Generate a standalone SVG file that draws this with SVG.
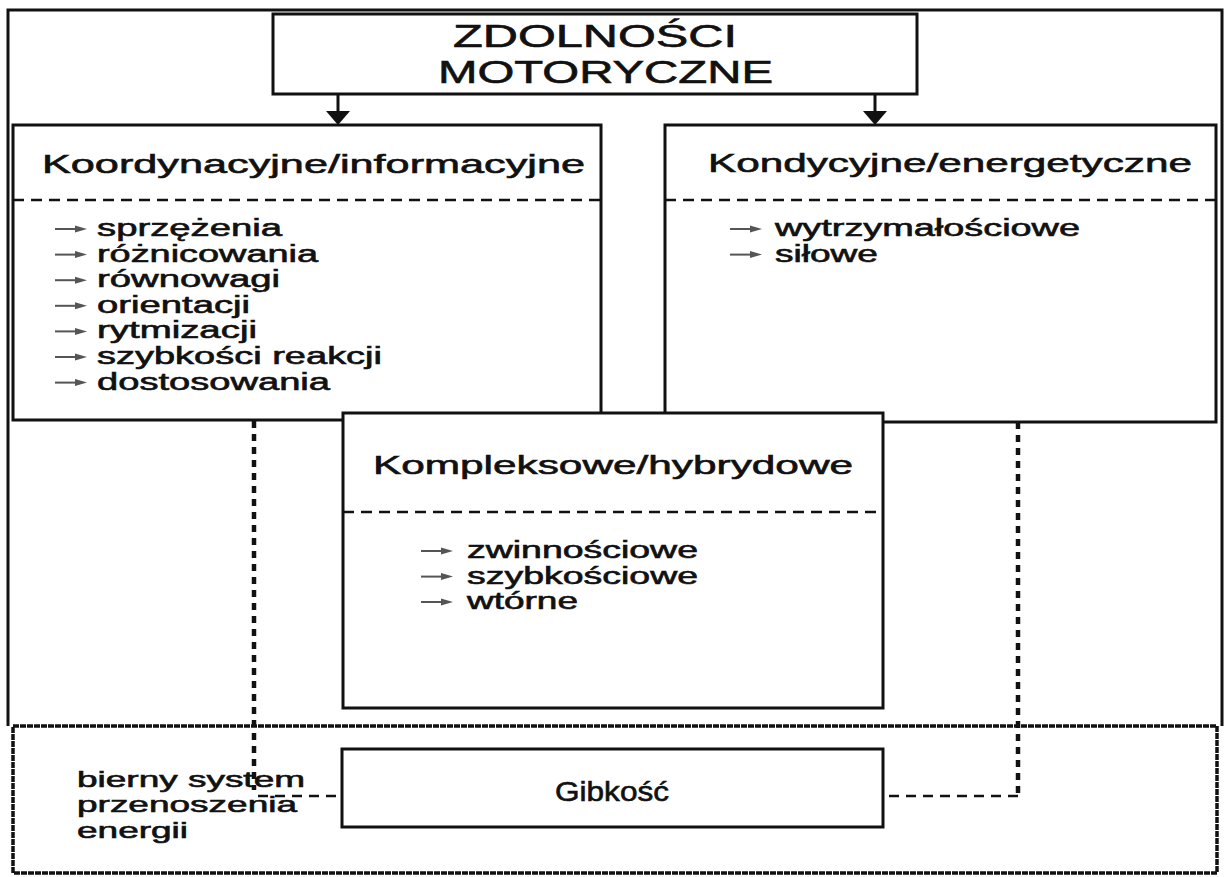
<svg xmlns="http://www.w3.org/2000/svg" width="1227" height="877" viewBox="0 0 1227 877">
  <style>
    .box { fill: #ffffff; stroke: #111111; stroke-width: 3; }
    .frame { fill: none; stroke: #111111; stroke-width: 3; }
    .band { fill: none; stroke: #111111; stroke-width: 3.5; stroke-dasharray: 6 1; }
    .sep { fill: none; stroke: #111111; stroke-width: 2.5; stroke-dasharray: 11 7; }
    .dots { fill: none; stroke: #111111; stroke-width: 4.5; stroke-dasharray: 7 6; }
    .dash { fill: none; stroke: #111111; stroke-width: 2.5; stroke-dasharray: 10 7; }
    .flow { fill: none; stroke: #111111; stroke-width: 3; }
    text { font-family: "Liberation Sans", Arial, sans-serif; fill: #111111; stroke: #111111; stroke-width: 0.6; }
    .title { font-size: 31px; }
    .head { font-size: 26px; }
    .item { font-size: 23px; }
    .note { font-size: 22px; }
  </style>
  <defs>
    <!-- small list bullet arrow -->
    <g id="bullet">
      <line x1="0" y1="0" x2="22" y2="0" stroke="#555555" stroke-width="2"/>
      <path d="M20,-3.5 L32,0 L20,3.5 Z" fill="#555555"/>
    </g>
  </defs>

  <!-- outer frame -->
  <path class="frame" d="M8,726 V10 H1222 V726"/>

  <!-- bottom band with flexibility -->
  <rect id="band" class="band" x="13" y="726" width="1204" height="147"/>

  <!-- connectors -->
  <g id="connectors">
    <path class="flow" d="M338,94 V112"/>
    <path d="M326,111 L350,111 L338,125 Z" fill="#111111"/>
    <path class="flow" d="M875,94 V112"/>
    <path d="M863,111 L887,111 L875,125 Z" fill="#111111"/>
    <path class="dots" d="M254,421 V790"/>
    <path class="dash" d="M258,796 H342"/>
    <path class="dots" d="M1018,422 V796"/>
    <path class="dash" d="M1018,796 H885"/>
  </g>

  <!-- title -->
  <g id="node-title">
    <rect class="box" x="273" y="14" width="644" height="80"/>
    <text class="title" x="453" y="47" textLength="284" lengthAdjust="spacingAndGlyphs">ZDOLNOŚCI</text>
    <text class="title" x="438" y="83" textLength="335" lengthAdjust="spacingAndGlyphs">MOTORYCZNE</text>
  </g>

  <!-- coordination abilities -->
  <g id="node-coordination">
    <rect class="box" x="13" y="125" width="588" height="295"/>
    <text class="head" x="42" y="173" textLength="543" lengthAdjust="spacingAndGlyphs">Koordynacyjne/informacyjne</text>
    <line class="sep" x1="13" y1="200" x2="601" y2="200"/>
    <use href="#bullet" x="55" y="229"/>
    <text class="item" x="97" y="236" textLength="185" lengthAdjust="spacingAndGlyphs">sprzężenia</text>
    <use href="#bullet" x="55" y="254.6"/>
    <text class="item" x="97" y="261.6" textLength="221" lengthAdjust="spacingAndGlyphs">różnicowania</text>
    <use href="#bullet" x="55" y="280.2"/>
    <text class="item" x="97" y="287.2" textLength="183" lengthAdjust="spacingAndGlyphs">równowagi</text>
    <use href="#bullet" x="55" y="305.8"/>
    <text class="item" x="97" y="312.8" textLength="153" lengthAdjust="spacingAndGlyphs">orientacji</text>
    <use href="#bullet" x="55" y="331.4"/>
    <text class="item" x="97" y="338.4" textLength="160" lengthAdjust="spacingAndGlyphs">rytmizacji</text>
    <use href="#bullet" x="55" y="357"/>
    <text class="item" x="97" y="364" textLength="285" lengthAdjust="spacingAndGlyphs">szybkości reakcji</text>
    <use href="#bullet" x="55" y="382.6"/>
    <text class="item" x="97" y="389.6" textLength="233" lengthAdjust="spacingAndGlyphs">dostosowania</text>
  </g>

  <!-- conditioning abilities -->
  <g id="node-conditioning">
    <rect class="box" x="665" y="125" width="551" height="297"/>
    <text class="head" x="708" y="172" textLength="484" lengthAdjust="spacingAndGlyphs">Kondycyjne/energetyczne</text>
    <line class="sep" x1="665" y1="200" x2="1216" y2="200"/>
    <use href="#bullet" x="730" y="229"/>
    <text class="item" x="775" y="236" textLength="305" lengthAdjust="spacingAndGlyphs">wytrzymałościowe</text>
    <use href="#bullet" x="730" y="254.6"/>
    <text class="item" x="775" y="261.6" textLength="103" lengthAdjust="spacingAndGlyphs">siłowe</text>
  </g>

  <!-- complex abilities -->
  <g id="node-complex">
    <rect class="box" x="343" y="413" width="540" height="295"/>
    <text class="head" x="373" y="474" textLength="480" lengthAdjust="spacingAndGlyphs">Kompleksowe/hybrydowe</text>
    <line class="sep" x1="343" y1="512" x2="883" y2="512"/>
    <use href="#bullet" x="421" y="551"/>
    <text class="item" x="467" y="558" textLength="231" lengthAdjust="spacingAndGlyphs">zwinnościowe</text>
    <use href="#bullet" x="421" y="576.6"/>
    <text class="item" x="467" y="583.6" textLength="231" lengthAdjust="spacingAndGlyphs">szybkościowe</text>
    <use href="#bullet" x="421" y="602"/>
    <text class="item" x="467" y="609" textLength="111" lengthAdjust="spacingAndGlyphs">wtórne</text>
  </g>

  <!-- flexibility -->
  <g id="node-flexibility">
    <rect class="box" x="342" y="749" width="541" height="78"/>
    <text x="555" y="801" font-size="27" textLength="114" lengthAdjust="spacingAndGlyphs">Gibkość</text>
  </g>

  <!-- passive energy transfer label -->
  <g id="node-passive">
    <text class="note" x="77" y="787" textLength="228" lengthAdjust="spacingAndGlyphs">bierny system</text>
    <text class="note" x="77" y="812" textLength="220" lengthAdjust="spacingAndGlyphs">przenoszenia</text>
    <text class="note" x="77" y="838" textLength="111" lengthAdjust="spacingAndGlyphs">energii</text>
  </g>
</svg>
